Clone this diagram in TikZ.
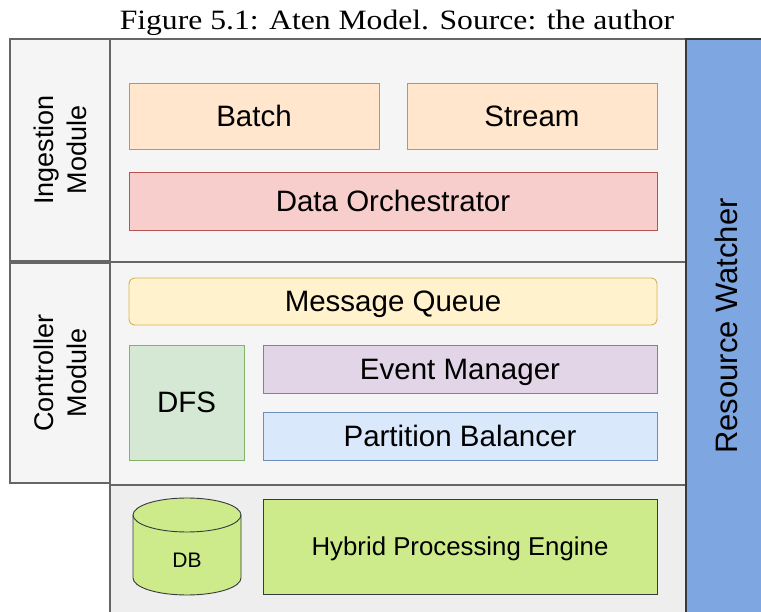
\documentclass[tikz,border=0pt]{standalone}
\usepackage{fontspec}
\setmainfont{Liberation Sans}
\newfontfamily\captionfont{Liberation Serif}
\usepackage{graphicx}

\definecolor{panelfill}{HTML}{F5F5F5}
\definecolor{panelline}{HTML}{666666}
\definecolor{basefill}{HTML}{EEEEEE}
\definecolor{orangefill}{HTML}{FFE6CC}
\definecolor{orangeline}{HTML}{D79B00}
\definecolor{redfill}{HTML}{F8CECC}
\definecolor{redline}{HTML}{B85450}
\definecolor{yellowfill}{HTML}{FFF2CC}
\definecolor{yellowline}{HTML}{D6B656}
\definecolor{greenfill}{HTML}{D5E8D4}
\definecolor{greenline}{HTML}{82B366}
\definecolor{purplefill}{HTML}{E1D5E7}
\definecolor{purpleline}{HTML}{9673A6}
\definecolor{bluefill}{HTML}{DAE8FC}
\definecolor{blueline}{HTML}{6C8EBF}
\definecolor{limefill}{HTML}{CDEB8B}
\definecolor{darkline}{HTML}{36393D}
\definecolor{watchfill}{HTML}{7EA6E0}

\tikzset{
  panel/.style={fill=panelfill, draw=panelline, line width=1.1pt},
  block/.style={rectangle, line width=0.9pt, inner sep=0pt,
    font=\fontsize{29.5}{34}\selectfont, text=black,
    text height=21pt, text depth=0pt},
  modlabel/.style={rotate=90, align=center, inner sep=0pt,
    font=\fontsize{27}{33}\selectfont},
}

\begin{document}
\begin{tikzpicture}[x=1pt, y=-1pt]
\useasboundingbox (0,0) rectangle (761,612);

% caption
\node[font=\captionfont\fontsize{28}{32}\selectfont, inner sep=0pt, anchor=base]
  (caption) at (397,30) {\scalebox{1.13}[1]{Figure 5.1: Aten Model. Source: the author}};

% module panels
\path[panel] (110,39) rectangle (686,262);
\path[panel] (110,262) rectangle (686,485);
\path[fill=basefill, draw=panelline, line width=1.1pt] (110,614) -- (110,485) -- (686,485) -- (686,614);

% module side labels
\path[panel] (10,39) rectangle (110,261);
\path[panel] (10,263) rectangle (110,483);
\node[modlabel] (inglabel) at (60,150) {Ingestion\\Module};
\node[modlabel] (ctllabel) at (60,373) {Controller\\Module};

% resource watcher
\path[fill=watchfill, draw=darkline, line width=1.1pt] (686,614) -- (686,39) -- (763,39) -- (763,614);
\node[rotate=90, inner sep=0pt, font=\fontsize{31}{36}\selectfont,
  text height=22.2pt, text depth=0pt] (watcher) at (726,326) {Resource Watcher};

% ingestion blocks
\node[block, fill=orangefill, draw=orangeline, minimum width=250pt, minimum height=66pt] (batch) at (254,116) {Batch};
\node[block, fill=orangefill, draw=orangeline, minimum width=250pt, minimum height=66pt] (stream) at (532,116) {Stream};
\node[block, fill=redfill, draw=redline, minimum width=528pt, minimum height=58pt] (orch) at (393,201) {Data Orchestrator};

% controller blocks
\node[block, fill=yellowfill, draw=yellowline, rounded corners=6pt, minimum width=528pt, minimum height=47pt] (queue) at (393,301.5) {Message Queue};
\node[block, fill=greenfill, draw=greenline, minimum width=115pt, minimum height=115pt] (dfs) at (186.5,402.5) {DFS};
\node[block, fill=purplefill, draw=purpleline, minimum width=394pt, minimum height=48pt] (events) at (460,369) {Event Manager};
\node[block, fill=bluefill, draw=blueline, minimum width=394pt, minimum height=48pt] (balancer) at (460,436) {Partition Balancer};

% processing layer: database cylinder
\path[fill=limefill, draw=darkline, line width=0.9pt]
  (133,515) -- (133,578) arc[start angle=180, end angle=0, x radius=54, y radius=17]
  -- (241,515) arc[start angle=0, end angle=-180, x radius=54, y radius=17] -- cycle;
\draw[darkline, line width=0.9pt] (133,515) arc[start angle=180, end angle=0, x radius=54, y radius=17];
\node[inner sep=0pt, font=\fontsize{21}{25}\selectfont, text height=15pt, text depth=0pt] (db) at (187,560) {DB};
\node[block, fill=limefill, draw=darkline, minimum width=394pt, minimum height=95pt,
  font=\fontsize{25.8}{30}\selectfont, text height=18.5pt] (engine) at (460,546.5) {Hybrid Processing Engine};
\end{tikzpicture}
\end{document}
